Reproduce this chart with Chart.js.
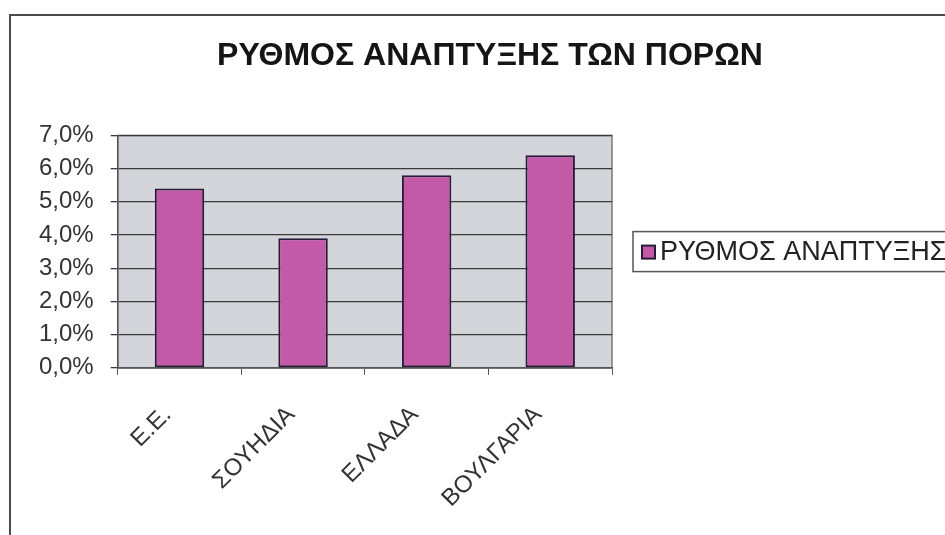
<html>
<head>
	<title>ΡΥΘΜΟΣ ΑΝΑΠΤΥΞΗΣ ΤΩΝ ΠΟΡΩΝ</title>
	<script src="https://cdn.jsdelivr.net/npm/chart.js@4.4.1/dist/chart.umd.min.js"></script>
	<style type="text/css">
	body{
		margin: 0;
		background-color: #fff;
		overflow: hidden;
	}
	.marco{
		position: absolute;
		left: 9px;
		top: 14px;
		width: 2000px;
		height: 2000px;
		border-left: 2px solid #4a4a4a;
		border-top: 2px solid #4a4a4a;
	}
	#canvas-container{
		position: absolute;
		left: 0;
		top: 0;
		width: 958px;
		height: 535px;
	}
	</style>
</head>
<body>
	<div class="marco"></div>
	<div id="canvas-container">
		<canvas id="chart"></canvas>
	</div>
	<script type="text/javascript">
	// datos
	var paises = ["Ε.Ε.", "ΣΟΥΗΔΙΑ", "ΕΛΛΑΔΑ", "ΒΟΥΛΓΑΡΙΑ"];
	var ritmo = [5.4, 3.9, 5.8, 6.4];
	var ejeMin = 0;
	var ejeMax = 7;
	var paso = 1;

	var fuente = "'Liberation Sans', Arial, Helvetica, sans-serif";

	// fondo gris del area + leyenda con marco (cortada a la derecha como en el original)
	var fondo = {
		id: "fondo",
		beforeDraw: function(chart){
			var ctx = chart.ctx, a = chart.chartArea;
			ctx.save();
			ctx.fillStyle = "#d3d5da";
			ctx.fillRect(a.left, a.top, a.right - a.left, a.bottom - a.top);
			ctx.strokeStyle = "#7a7a7a";
			ctx.lineWidth = 1.5;
			ctx.strokeRect(a.left, a.top, a.right - a.left, a.bottom - a.top);
			ctx.restore();
		},
		afterDraw: function(chart){
			var ctx = chart.ctx, a = chart.chartArea;
			var ds = chart.data.datasets[0];
			var x = a.right + 21;
			var cy = (a.top + a.bottom) / 2;
			ctx.save();
			ctx.strokeStyle = "#555";
			ctx.lineWidth = 1.5;
			ctx.strokeRect(x, cy - 20, 500, 40);
			ctx.fillStyle = ds.backgroundColor;
			ctx.fillRect(x + 9, cy - 6, 13, 13);
			ctx.strokeStyle = ds.borderColor;
			ctx.lineWidth = 2;
			ctx.strokeRect(x + 9, cy - 6, 13, 13);
			ctx.fillStyle = "#222";
			ctx.font = "27px " + fuente;
			ctx.textBaseline = "middle";
			ctx.fillText(ds.label, x + 27, cy + 1);
			ctx.restore();
		}
	};

	var canvas = document.getElementById('chart').getContext('2d');
	window.bar = new Chart(canvas, {
		type: "bar",
		data: {
			labels: paises,
			datasets: [{
				label: "ΡΥΘΜΟΣ ΑΝΑΠΤΥΞΗΣ",
				data: ritmo,
				backgroundColor: "#c35aa8",
				borderColor: "#2a1a3a",
				borderWidth: 2,
				borderSkipped: false,
				categoryPercentage: 1,
				barPercentage: 0.4
			}]
		},
		plugins: [fondo],
		options: {
			responsive: true,
			maintainAspectRatio: false,
			animation: false,
			layout: {
				padding: {top: 20, left: 22, right: 0, bottom: -4}
			},
			plugins: {
				title: {
					display: true,
					text: "ΡΥΘΜΟΣ ΑΝΑΠΤΥΞΗΣ ΤΩΝ ΠΟΡΩΝ",
					color: "#151515",
					font: {family: fuente, size: 32, weight: "bold"},
					padding: {top: 17, bottom: 60}
				},
				legend: {display: false},
				tooltip: {enabled: false}
			},
			scales: {
				x: {
					grid: {
						drawOnChartArea: false,
						drawTicks: true,
						tickLength: 7,
						color: "#555"
					},
					border: {color: "#555", width: 1.5},
					ticks: {
						color: "#333",
						font: {family: fuente, size: 24},
						maxRotation: 45,
						minRotation: 45,
						padding: 26,
						labelOffset: -12
					}
				},
				y: {
					min: ejeMin,
					max: ejeMax,
					grid: {
						color: "#3a3a3a",
						lineWidth: 1.3,
						tickLength: 7
					},
					border: {color: "#555", width: 1.5},
					ticks: {
						stepSize: paso,
						autoSkip: false,
						color: "#333",
						font: {family: fuente, size: 24},
						padding: 17,
						callback: function(v){
							return v.toFixed(1).replace('.', ',') + '%';
						}
					}
				},
				// eje vacio a la derecha: deja el hueco donde va la leyenda
				hueco: {
					type: "linear",
					position: "right",
					display: true,
					grid: {display: false, drawTicks: false},
					border: {display: false},
					ticks: {display: false},
					afterFit: function(scale){
						scale.width = 346;
					}
				}
			}
		}
	});
	</script>
</body>
</html>
